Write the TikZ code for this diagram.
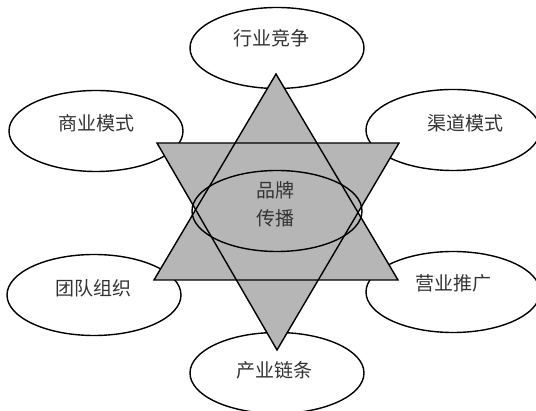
\documentclass[tikz,border=0pt]{standalone}
\usepackage{fontspec}
\newfontfamily\cjk{Noto Sans CJK SC}
\usetikzlibrary{shapes.geometric}
\definecolor{stargray}{HTML}{B6B6B6}
\definecolor{txtgray}{HTML}{333333}
\begin{document}
\begin{tikzpicture}[x=1pt,y=-1pt,
  outer/.style={ellipse, draw=black, line width=1.4pt, fill=white, minimum width=174pt, minimum height=81pt, inner sep=0pt},
  inner/.style={ellipse, draw=black, line width=1.4pt, minimum width=170pt, minimum height=81pt, inner sep=0pt},
  txt/.style={font=\cjk\fontsize{19}{22}\selectfont, text=txtgray, inner sep=0pt},
  tri/.style={fill=stargray},
  triline/.style={draw=black, line width=1.4pt, line join=miter}]
\useasboundingbox (0,0) rectangle (536,411);
% outer ellipses
\node[outer, label={[txt, xshift=-6pt, yshift=10pt]center:行业竞争}] (hy) at (277,48) {};
\node[outer, label={[txt, yshift=8pt]center:商业模式}] (sy) at (96,131) {};
\node[outer, label={[txt, xshift=12pt, yshift=7pt]center:渠道模式}] (qd) at (453,130) {};
\node[outer, label={[txt, yshift=7pt]center:团队组织}] (td) at (94,295) {};
\node[outer, label={[txt, yshift=9pt]center:营业推广}] (yy) at (453,292) {};
\node[outer, label={[txt, xshift=-3pt, yshift=3pt]center:产业链条}] (cy) at (277,373) {};
% star
\coordinate (ua) at (276,74);
\coordinate (ul) at (154,280);
\coordinate (ur) at (398,280);
\coordinate (dl) at (157,143);
\coordinate (dr) at (399,143);
\coordinate (da) at (277,350);
\fill[tri] (ua) -- (ul) -- (ur) -- cycle;
\fill[tri] (dl) -- (dr) -- (da) -- cycle;
\draw[triline] (ua) -- (ul) -- (ur) -- cycle;
\draw[triline] (dl) -- (dr) -- (da) -- cycle;
% center
\node[inner] (pp) at (277,211) {};
\node[txt] (t1) at (275,190) {品牌};
\node[txt] (t2) at (275,218) {传播};
\end{tikzpicture}
\end{document}
